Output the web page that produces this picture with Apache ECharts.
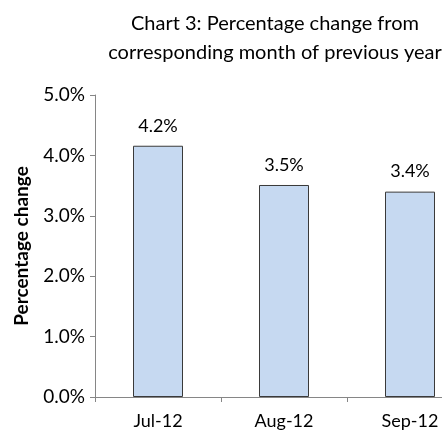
<!DOCTYPE html>
<html><head><meta charset="utf-8">
<script src="https://cdn.jsdelivr.net/npm/echarts@6/dist/echarts.min.js"></script>
<style>html,body{margin:0;padding:0;background:#fff}#c{width:442px;height:432px}</style>
</head><body><div id="c"></div>
<script>
const categories = ['Jul-12', 'Aug-12', 'Sep-12'];
const values = [4.16, 3.51, 3.40];
const yTicks = [0, 1, 2, 3, 4, 5];
const titleLines = ['Chart 3: Percentage change from', 'corresponding month of previous year'];
const yName = 'Percentage change';

const F = 'Lato, "Open Sans", sans-serif';
const chart = echarts.init(document.getElementById('c'), null, {renderer: 'canvas'});
chart.setOption({
  animation: false,
  title: {
    text: titleLines.join('\n'),
    left: 270, top: 4, textAlign: 'center',
    textStyle: {fontFamily: F, fontSize: 20, fontWeight: 'normal', color: '#000', lineHeight: 29}
  },
  grid: {left: 95, width: 378, top: 95, bottom: 35, containLabel: false, outerBoundsMode: 'none'},
  xAxis: {
    type: 'category', data: categories,
    axisLine: {lineStyle: {color: '#868686', width: 1}},
    axisTick: {show: true, length: 5, interval: 0, lineStyle: {color: '#868686'}},
    axisLabel: {margin: 15, fontFamily: F, fontSize: 18, color: '#000'}
  },
  yAxis: {
    type: 'value', min: yTicks[0], max: yTicks[yTicks.length - 1], interval: 1,
    name: yName, nameLocation: 'middle', nameGap: 64, nameRotate: 90,
    nameTextStyle: {fontFamily: F, fontSize: 19, fontWeight: 'bold', color: '#000'},
    axisLine: {show: true, lineStyle: {color: '#868686', width: 1}},
    axisTick: {show: true, length: 5, lineStyle: {color: '#868686'}},
    splitLine: {show: false},
    axisLabel: {margin: 10, fontFamily: F, fontSize: 19, color: '#000',
      formatter: v => v.toFixed(1) + '%'}
  },
  series: [{
    type: 'bar', data: values, barWidth: 50,
    itemStyle: {color: '#c6d9f1', borderColor: '#3a3a3a', borderWidth: 1},
    label: {show: true, position: 'top', distance: 11, fontFamily: F, fontSize: 18, color: '#000',
      formatter: p => p.value.toFixed(1) + '%'}
  }]
});
</script></body></html>
